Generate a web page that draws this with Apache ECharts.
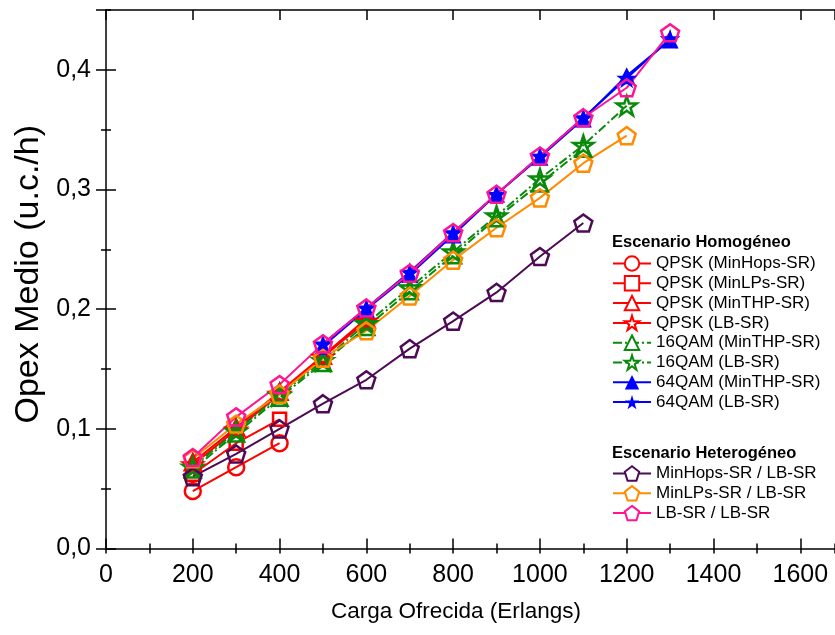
<!DOCTYPE html>
<html>
<head>
<meta charset="utf-8">
<script src="https://cdn.jsdelivr.net/npm/echarts@6/dist/echarts.min.js"></script>
<style>
  html, body { margin: 0; padding: 0; background: #fff; }
  #chart { width: 835px; height: 635px; }
</style>
</head>
<body>
<div id="chart"></div>
<script>
// carga ofrecida (Erlangs)
const carga = [200, 300, 400, 500, 600, 700, 800, 900, 1000, 1100, 1200, 1300];

// Escenario homogéneo
const qpskMinHops = [0.048, 0.068, 0.088];
const qpskMinLPs = [0.062, 0.088, 0.108];
const qpskMinTHP = [0.072, 0.101, 0.131, 0.161, 0.192];
const qpskLB = [0.070, 0.099, 0.129, 0.160, 0.190];
const qam16MinTHP = [0.066, 0.096, 0.126, 0.155, 0.185, 0.215, 0.245, 0.276, 0.305, 0.334];
const qam16LB = [0.068, 0.098, 0.128, 0.157, 0.188, 0.218, 0.248, 0.278, 0.309, 0.337, 0.370];
const qam64MinTHP = [null, null, null, 0.169, 0.200, 0.229, 0.262, 0.296, 0.327, 0.359, 0.395, 0.425];
const qam64LB = [null, null, null, 0.171, 0.201, 0.231, 0.264, 0.296, 0.328, 0.360, 0.393, 0.426];

// Escenario heterogéneo
const hetMinHops = [0.060, 0.079, 0.100, 0.121, 0.141, 0.167, 0.190, 0.214, 0.244, 0.272];
const hetMinLPs = [0.075, 0.104, 0.129, 0.159, 0.182, 0.211, 0.241, 0.268, 0.293, 0.322, 0.345];
const hetLB = [0.076, 0.110, 0.137, 0.171, 0.201, 0.230, 0.264, 0.296, 0.328, 0.360, 0.385, 0.431];

const yTickLabels = ['0,0', '0,1', '0,2', '0,3', '0,4'];
const xTickLabels = ['0', '200', '400', '600', '800', '1000', '1200', '1400', '1600'];

const FONT = '"Liberation Sans", Arial, sans-serif';
const STAR = 'path://M50 0 L61.2 34.6 L97.6 34.5 L68.1 55.9 L79.4 90.5 L50 69 L20.6 90.5 L31.9 55.9 L2.4 34.5 L38.8 34.6 Z';
const PENT = 'path://M50 0 L97.6 34.5 L79.4 90.5 L20.6 90.5 L2.4 34.5 Z';

const RED = '#ff0000', GREEN = '#0a8a0a', BLUE = '#0000ff';
const PURPLE = '#4e0a56', ORANGE = '#ff8c00', PINK = '#ff1493';

const chart = echarts.init(document.getElementById('chart'));

const mkSeries = (name, values, color, symbol, size, filled, dash) => ({
  name: name,
  type: 'line',
  data: carga.slice(0, values.length).map((x, i) => [x, values[i]]),
  symbol: symbol,
  symbolSize: size,
  symbolKeepAspect: true,
  showAllSymbol: true,
  lineStyle: { color: color, width: 2, type: dash || 'solid' },
  itemStyle: {
    color: filled ? color : 'rgba(0,0,0,0)',
    borderColor: color,
    borderWidth: filled ? 0 : 2.5
  },
  emphasis: { disabled: true }
});

const dashDot = [9, 3, 2, 3];

const series = [
  mkSeries('QPSK (MinHops-SR)', qpskMinHops, RED, 'circle', 16, false),
  mkSeries('QPSK (MinLPs-SR)', qpskMinLPs, RED, 'rect', 13, false),
  mkSeries('QPSK (MinTHP-SR)', qpskMinTHP, RED, 'triangle', 16, false),
  mkSeries('QPSK (LB-SR)', qpskLB, RED, STAR, 19, false),
  mkSeries('16QAM (MinTHP-SR)', qam16MinTHP, GREEN, 'triangle', 16, false, dashDot),
  mkSeries('16QAM (LB-SR)', qam16LB, GREEN, STAR, 20, false, dashDot),
  mkSeries('64QAM (MinTHP-SR)', qam64MinTHP, BLUE, 'triangle', 17, true),
  mkSeries('64QAM (LB-SR)', qam64LB, BLUE, STAR, 21, true),
  mkSeries('MinHops-SR / LB-SR', hetMinHops, PURPLE, PENT, 18, false),
  mkSeries('MinLPs-SR / LB-SR', hetMinLPs, ORANGE, PENT, 18, false),
  mkSeries('LB-SR / LB-SR', hetLB, PINK, PENT, 18, false)
];

const hollow = { color: '#fff' };
const legendCommon = {
  orient: 'vertical',
  left: 607,
  itemWidth: 38,
  itemHeight: 18,
  itemGap: 2.8,
  selectedMode: false,
  textStyle: { fontSize: 17, fontFamily: FONT, color: '#000' }
};

const tickStyle = { color: '#000', width: 1.5 };
const xBase = { type: 'value', min: 0, max: 1680, splitLine: { show: false } };
const yBase = { type: 'value', min: 0, max: 0.45, splitLine: { show: false } };

chart.setOption({
  animation: false,
  backgroundColor: '#fff',
  grid: { left: 106, right: -2, top: 10, bottom: 86.5 },
  legend: [
    Object.assign({}, legendCommon, {
      top: 250,
      data: [
        { name: 'QPSK (MinHops-SR)', itemStyle: hollow },
        { name: 'QPSK (MinLPs-SR)', itemStyle: hollow },
        { name: 'QPSK (MinTHP-SR)', itemStyle: hollow },
        { name: 'QPSK (LB-SR)', itemStyle: hollow },
        { name: '16QAM (MinTHP-SR)', itemStyle: hollow },
        { name: '16QAM (LB-SR)', itemStyle: hollow },
        { name: '64QAM (MinTHP-SR)' },
        { name: '64QAM (LB-SR)' }
      ]
    }),
    Object.assign({}, legendCommon, {
      top: 460,
      data: [
        { name: 'MinHops-SR / LB-SR', itemStyle: hollow },
        { name: 'MinLPs-SR / LB-SR', itemStyle: hollow },
        { name: 'LB-SR / LB-SR', itemStyle: hollow }
      ]
    })
  ],
  graphic: [
    {
      type: 'text', x: 612, y: 242,
      style: { text: 'Escenario Homogéneo', font: 'bold 16.5px ' + FONT, fill: '#000', verticalAlign: 'middle' }
    },
    {
      type: 'text', x: 612, y: 453,
      style: { text: 'Escenario Heterogéneo', font: 'bold 16.5px ' + FONT, fill: '#000', verticalAlign: 'middle' }
    },
    {
      type: 'text', x: 456, y: 612,
      style: { text: 'Carga Ofrecida (Erlangs)', font: '22.5px ' + FONT, fill: '#000', align: 'center', verticalAlign: 'middle' }
    }
  ],
  xAxis: [
    Object.assign({}, xBase, {
      position: 'bottom', interval: 200,
      axisLine: { show: true, onZero: false, lineStyle: tickStyle },
      axisTick: { show: true, inside: true, length: 10, lineStyle: tickStyle },
      axisLabel: {
        show: true, margin: 14, fontSize: 25, fontFamily: FONT, color: '#000',
        showMaxLabel: false,
        formatter: v => xTickLabels[Math.round(v / 200)] || ''
      }
    }),
    Object.assign({}, xBase, {
      position: 'bottom', interval: 100,
      axisLine: { show: false },
      axisTick: { show: true, inside: true, length: 5, lineStyle: tickStyle },
      axisLabel: { show: false }
    }),
    Object.assign({}, xBase, {
      position: 'top', interval: 200,
      axisLine: { show: true, onZero: false, lineStyle: tickStyle },
      axisTick: { show: true, inside: true, length: 10, lineStyle: tickStyle },
      axisLabel: { show: false }
    }),
    Object.assign({}, xBase, {
      position: 'top', interval: 100,
      axisLine: { show: false },
      axisTick: { show: true, inside: true, length: 5, lineStyle: tickStyle },
      axisLabel: { show: false }
    })
  ],
  yAxis: [
    Object.assign({}, yBase, {
      position: 'left', interval: 0.1,
      name: 'Opex Medio (u.c./h)', nameLocation: 'middle', nameGap: 59,
      nameTextStyle: { fontSize: 34, fontFamily: FONT, color: '#000', padding: [0, 0, 0, 10] },
      axisLine: { show: true, onZero: false, lineStyle: tickStyle },
      axisTick: { show: true, inside: true, length: 10, lineStyle: tickStyle },
      axisLabel: {
        show: true, margin: 15, fontSize: 25, fontFamily: FONT, color: '#000',
        showMaxLabel: false,
        formatter: v => yTickLabels[Math.round(v * 10)] || ''
      }
    }),
    Object.assign({}, yBase, {
      position: 'left', interval: 0.05,
      axisLine: { show: false },
      axisTick: { show: true, inside: true, length: 5, lineStyle: tickStyle },
      axisLabel: { show: false }
    }),
    Object.assign({}, yBase, {
      position: 'right', interval: 0.1,
      axisLine: { show: false },
      axisTick: { show: true, inside: true, length: 10, lineStyle: tickStyle },
      axisLabel: { show: false }
    }),
    Object.assign({}, yBase, {
      position: 'right', interval: 0.05,
      axisLine: { show: false },
      axisTick: { show: true, inside: true, length: 5, lineStyle: tickStyle },
      axisLabel: { show: false }
    })
  ],
  series: series
});
</script>
</body>
</html>
